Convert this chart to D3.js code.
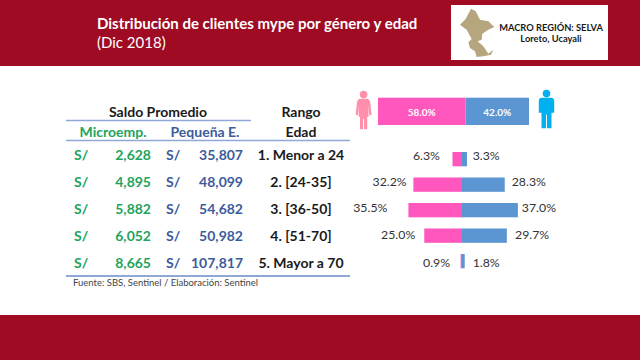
<!DOCTYPE html>
<html><head><meta charset="utf-8">
<script src="https://cdn.jsdelivr.net/npm/d3@7"></script>
<style>html,body{margin:0;padding:0;background:#fff}svg{display:block}text{font-family:Lato,"Open Sans",sans-serif}</style>
</head><body><svg id="c" width="640" height="360"></svg>
<script>
const ageRanges = ["1. Menor a 24","2. [24-35]","3. [36-50]","4. [51-70]","5. Mayor a 70"];
const microemp = ["2,628","4,895","5,882","6,052","8,665"];
const pequena = ["35,807","48,099","54,682","50,982","107,817"];
const mujeres = [6.3,32.2,35.5,25.0,0.9];
const hombres = [3.3,28.3,37.0,29.7,1.8];
const totalGenero = [58.0,42.0];
const mapOutline = [[48,17],[62,25],[75,50],[100,55],[118,72],[100,80],[82,92],[80,110],[68,115],[85,130],[100,152],[115,140],[108,155],[85,160],[65,162],[60,145],[45,135],[40,118],[50,108],[35,80],[15,65],[32,48]];

const RED="#9E0B23",PINK="#FF57BE",BLUE="#5B96D2",GREEN="#22A45C",NAVY="#3C5C9C",LINE="#8FA8D8",INK="#1a1a1a";
const svg=d3.select("#c");
const fmt=v=>v.toFixed(1)+"%";
const text=(x,y,s,o={})=>svg.append("text").attr("x",x).attr("y",y).attr("dy","0.35em")
  .attr("text-anchor",o.a||"start").attr("font-size",o.s||13).attr("font-weight",o.w||400).attr("fill",o.c||INK).text(s);

// Bands
svg.append("rect").attr("width",640).attr("height",66).attr("fill",RED);
svg.append("rect").attr("y",315).attr("width",640).attr("height",45).attr("fill",RED);
text(97,24,"Distribución de clientes mype por género y edad",{s:15,w:700,c:"#fff"});
text(97,43,"(Dic 2018)",{s:15,c:"#fff"});

// Region box
svg.append("rect").attr("x",451).attr("y",5).attr("width",157).attr("height",55).attr("fill","#fff");
svg.append("path").attr("transform","translate(455,3) scale(0.3333)")
  .attr("d",d3.line().curve(d3.curveLinearClosed)(mapOutline)).attr("fill","#B5A67E");
text(551,28,"MACRO REGIÓN: SELVA",{a:"middle",s:9.3,w:700});
text(551,39,"Loreto, Ucayali",{a:"middle",s:9.3,w:700});

// Table
const rowY=d3.scalePoint().domain(ageRanges).range([155,263]);
[[66,251,120.5],[66,350,140.5],[66,350,276]].forEach(([a,b,y],i)=>
  svg.append("line").attr("x1",a).attr("x2",b).attr("y1",y).attr("y2",y).attr("stroke",LINE).attr("stroke-width",i==2?2:1.3));
text(158,112,"Saldo Promedio",{a:"middle",s:14,w:700});
text(301,112,"Rango",{a:"middle",s:14,w:700});
text(301,132,"Edad",{a:"middle",s:14,w:700});
text(113,132,"Microemp.",{a:"middle",s:14,w:700,c:GREEN});
text(205,132,"Pequeña E.",{a:"middle",s:14,w:700,c:NAVY});
ageRanges.forEach((r,i)=>{
  const y=rowY(r);
  text(74,y,"S/",{s:14,w:700,c:GREEN});
  text(151,y,microemp[i],{a:"end",s:14,w:700,c:GREEN});
  text(166,y,"S/",{s:14,w:700,c:NAVY});
  text(243,y,pequena[i],{a:"end",s:14,w:700,c:NAVY});
  text(301,y,r,{a:"middle",s:14,w:700});
});
text(73,283,"Fuente: SBS, Sentinel / Elaboración: Sentinel",{s:9.5,c:"#444"});

// Overall bar
const xTot=d3.scaleLinear().domain([0,100]).range([378,529]);
svg.append("rect").attr("x",xTot(0)).attr("y",97.7).attr("width",xTot(totalGenero[0])-xTot(0)).attr("height",27.3).attr("fill",PINK);
svg.append("rect").attr("x",xTot(totalGenero[0])).attr("y",97.7).attr("width",xTot(100)-xTot(totalGenero[0])).attr("height",27.3).attr("fill",BLUE);
text((xTot(0)+xTot(58))/2,112,fmt(totalGenero[0]),{a:"middle",s:10,w:700,c:"#fff"});
text((xTot(58)+xTot(100))/2,112,fmt(totalGenero[1]),{a:"middle",s:10,w:700,c:"#fff"});

// Person icons
function person(cx,top,col,female){
  const g=svg.append("g").attr("transform",`translate(${cx},${top})`).attr("fill",col);
  g.append("circle").attr("cy",3.8).attr("r",3.8);
  g.append("path").attr("d",female
    ?"M-4 8 L4 8 Q6 8.5 6.5 11 L8 24 L5.8 24.8 L4.4 15 L5 26 L3.6 26 L3.6 38.5 L0.5 38.5 L0.5 28 L-0.5 28 L-0.5 38.5 L-3.6 38.5 L-3.6 26 L-5 26 L-4.4 15 L-5.8 24.8 L-8 24 L-6.5 11 Q-6 8.5 -4 8Z"
    :"M-5.5 8 L5.5 8 Q7.7 8.5 7.7 11 L7.7 23 L5 23 L5 38.5 L0.5 38.5 L0.5 25 L-0.5 25 L-0.5 38.5 L-5 38.5 L-5 23 L-7.7 23 L-7.7 11 Q-7.7 8.5 -5.5 8Z");
}
person(363.6,90.8,"#FF8FAB",true);
person(546.5,89.8,"#00B0F0",false);

// Pyramid
const x=d3.scaleLinear().domain([-40,40]).range([462-60.4,462+60.4]);
const yPos=d3.scalePoint().domain(ageRanges).range([152,254]);
const h=14.3;
svg.append("g").selectAll("rect").data(ageRanges).join("rect")
  .attr("x",(d,i)=>x(-mujeres[i])).attr("y",d=>yPos(d)).attr("height",h)
  .attr("width",(d,i)=>x(0)-x(-mujeres[i])).attr("fill",PINK);
svg.append("g").selectAll("rect").data(ageRanges).join("rect")
  .attr("x",x(0)).attr("y",d=>yPos(d)).attr("height",h)
  .attr("width",(d,i)=>x(hombres[i])-x(0)).attr("fill",BLUE);
const lblOffL=[12.5,6.7,21,9,10.6], lblOffR=[5.7,7,4,8.2,8], lblDy=[-3.8,-3,-2.7,-1.2,1.3];
ageRanges.forEach((r,i)=>{
  const cy=yPos(r)+h/2+lblDy[i];
  text(x(-mujeres[i])-lblOffL[i],cy,fmt(mujeres[i]),{a:"end",s:12.3,c:"#333"});
  text(x(hombres[i])+lblOffR[i],cy,fmt(hombres[i]),{s:12.3,c:"#333"});
});
</script></body></html>
